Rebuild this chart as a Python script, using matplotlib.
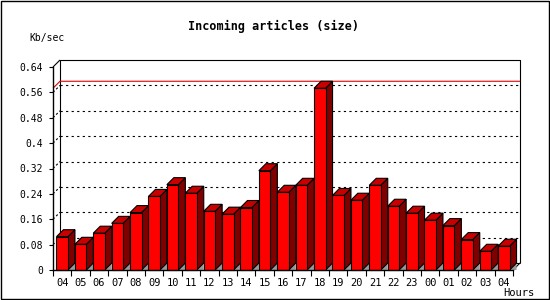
import matplotlib
matplotlib.use("Agg")
import matplotlib.pyplot as plt
from matplotlib.patches import Polygon, Rectangle

hours = ['04', '05', '06', '07', '08', '09', '10', '11', '12', '13', '14', '15',
         '16', '17', '18', '19', '20', '21', '22', '23', '00', '01', '02', '03', '04']
kbsec = [0.105, 0.081, 0.116, 0.147, 0.181, 0.232, 0.269, 0.242, 0.185, 0.176,
         0.197, 0.313, 0.245, 0.267, 0.573, 0.235, 0.220, 0.267, 0.201, 0.179,
         0.157, 0.140, 0.096, 0.059, 0.075]
yticks = [0, 0.08, 0.16, 0.24, 0.32, 0.4, 0.48, 0.56, 0.64]
ytick_labels = ['0', '0.08', '0.16', '0.24', '0.32', '0.4', '0.48', '0.56', '0.64']

FONT = 'DejaVu Sans Mono'
W, H = 550, 300

fig = plt.figure(figsize=(5.5, 3.0), dpi=100)
fig.patch.set_facecolor('white')
# outer frame
fig.add_artist(Rectangle((0.5 / W, 1.5 / H), 548.5 / W, 298 / H, transform=fig.transFigure,
                         fill=False, edgecolor='black', linewidth=1.0))

ax = fig.add_axes([53 / W, 30 / H, 460 / W, 203 / H])
n = len(kbsec)
x0, x1 = -0.5, n - 0.5
ymax = 0.64
ax.set_xlim(x0, x1)
ax.set_ylim(0, ymax)
for s in ['top', 'right']:
    ax.spines[s].set_visible(False)
for s in ['left', 'bottom']:
    ax.spines[s].set_linewidth(1.0)
    ax.spines[s].set_zorder(20)

# depth of the 3d effect, 7 px
dx = 7 / 460 * n
dy = 7 / 203 * ymax
lw = 0.8

def line(xs, ys, **kw):
    kw.setdefault('color', 'black')
    kw.setdefault('linewidth', lw)
    ax.plot(xs, ys, clip_on=False, solid_capstyle='butt', **kw)

# back wall
line([x0 + dx, x0 + dx, x1 + dx, x1 + dx], [dy, ymax + dy, ymax + dy, dy], zorder=1)
line([x0 + dx, x1 + dx], [dy, dy], zorder=1)
line([x0, x0 + dx], [ymax, ymax + dy], zorder=1)
line([x1, x1 + dx], [0, dy], zorder=1)
for t in yticks[1:-1]:
    line([x0 + dx, x1 + dx], [t + dy, t + dy], linestyle=(0, (2, 3)), zorder=1)
    line([x0, x0 + dx], [t, t + dy], linestyle=(0, (2, 2)), zorder=1)

# max line
peak = max(kbsec)
line([x0, x0 + dx, x1 + dx], [peak, peak + dy, peak + dy], color='#e00000', zorder=2)

# bars
w = 0.625
for i, v in enumerate(kbsec):
    l, r = i - w / 2, i + w / 2
    z = 5 + i * 0.01
    ax.add_patch(Polygon([(r, 0), (r + dx, dy), (r + dx, 0)], closed=True,
                         facecolor='#999999', edgecolor='none', zorder=z, clip_on=False))
    ax.add_patch(Polygon([(r, 0), (r, v), (r + dx, v + dy), (r + dx, dy)], closed=True,
                         facecolor='#800000', edgecolor='black', linewidth=lw, zorder=z,
                         clip_on=False))
    ax.add_patch(Polygon([(l, v), (l + dx, v + dy), (r + dx, v + dy), (r, v)], closed=True,
                         facecolor='#c80000', edgecolor='black', linewidth=lw, zorder=z,
                         clip_on=False))
    ax.bar(i, v, width=w, color='#ff0000', edgecolor='black', linewidth=lw,
           zorder=z + 0.001, clip_on=False)

# ticks
ax.set_yticks(yticks)
ax.set_yticklabels(ytick_labels, fontfamily=FONT, fontsize=7)
ax.tick_params(axis='y', length=3, width=0.8, pad=4, direction='out')
ax.set_xticks(range(n))
ax.set_xticklabels(hours, fontfamily=FONT, fontsize=7.5)
ax.set_xticks([k - 0.5 for k in range(n + 1)], minor=True)
ax.tick_params(axis='x', which='major', length=0, pad=6)
ax.tick_params(axis='x', which='minor', length=4, width=0.8, direction='out')

fig.text(274 / W, 1 - 26.5 / H, 'Incoming articles (size)', ha='center', va='center',
         fontfamily=FONT, fontsize=8.5, fontweight='bold')
fig.text(29 / W, 1 - 37.5 / H, 'Kb/sec', ha='left', va='center', fontfamily=FONT, fontsize=7)
fig.text(534 / W, 1 - 292.5 / H, 'Hours', ha='right', va='center', fontfamily=FONT, fontsize=7.5)

fig.savefig('out.png', dpi=100)
